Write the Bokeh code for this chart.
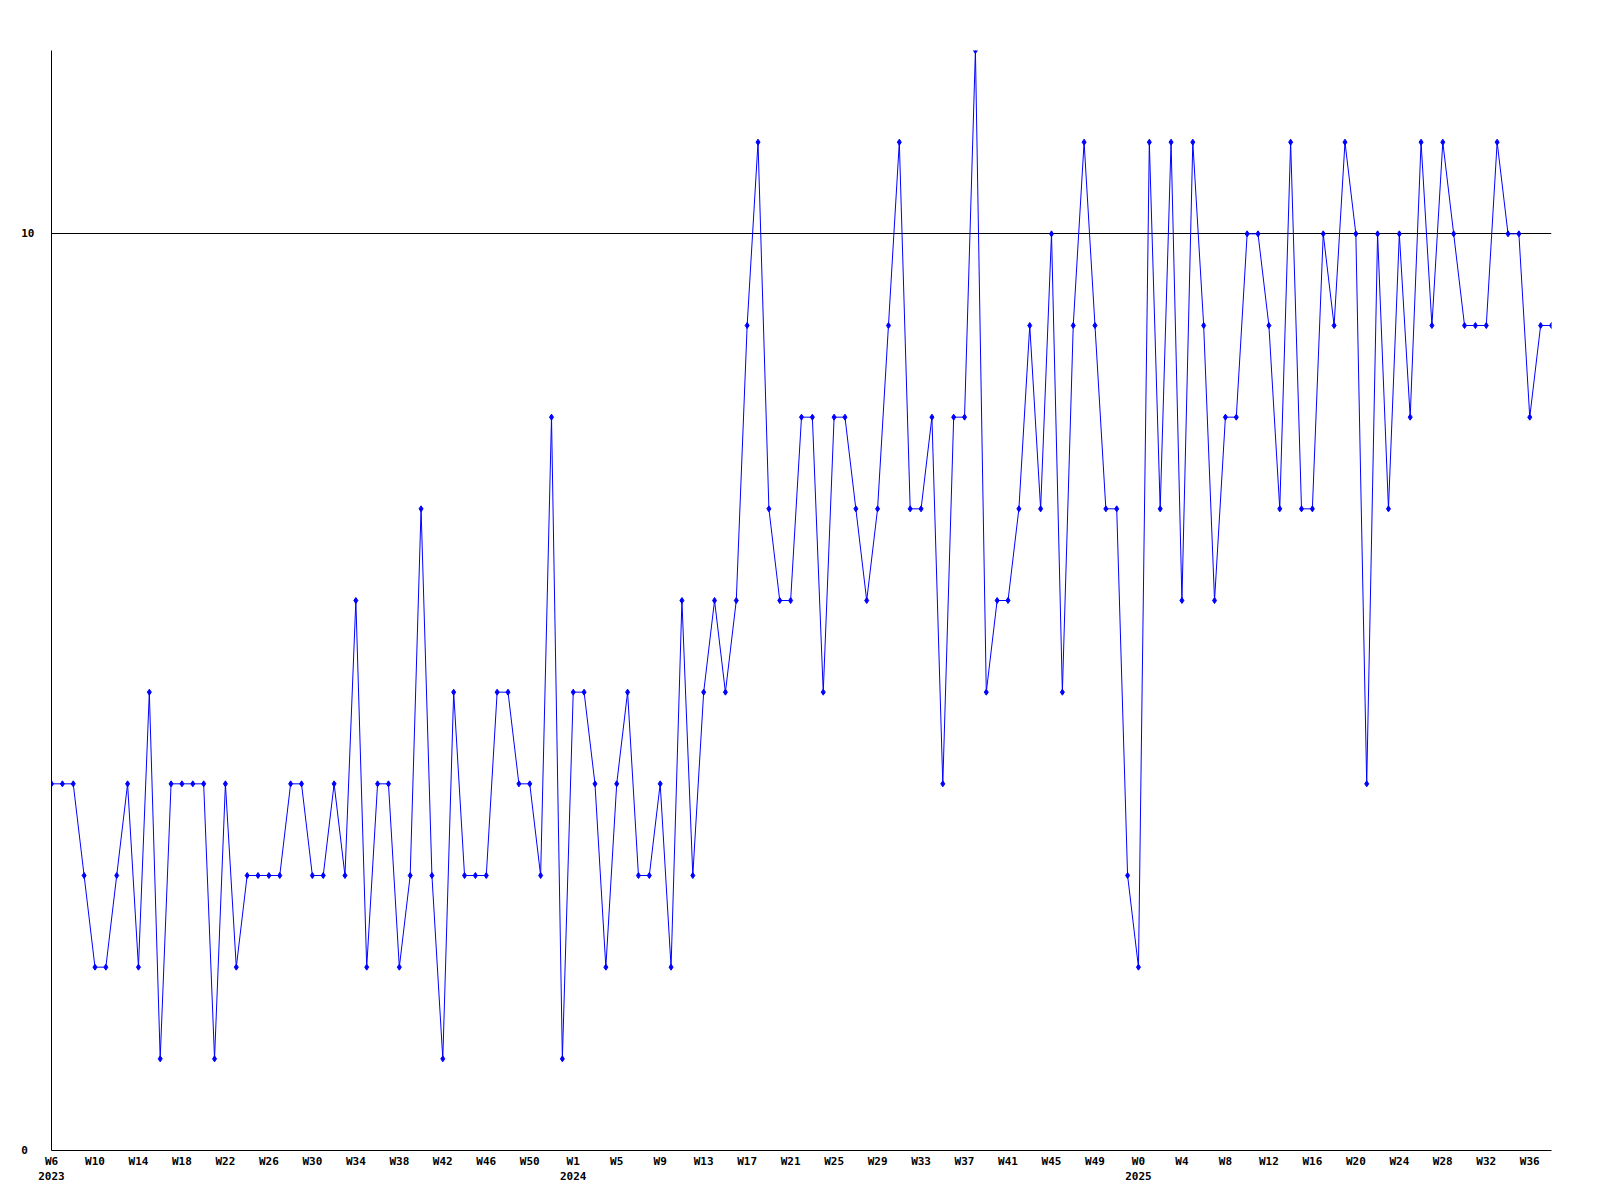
from bokeh.plotting import figure
from bokeh.models import Range1d, FixedTicker, LinearAxis
from bokeh.embed import file_html
from bokeh.resources import INLINE

# weekly values, W6 2023 .. W38 2025
values = [4, 4, 4, 3, 2, 2, 3, 4, 2, 5,
          1, 4, 4, 4, 4, 1, 4, 2, 3, 3,
          3, 3, 4, 4, 3, 3, 4, 3, 6, 2,
          4, 4, 2, 3, 7, 3, 1, 5, 3, 3,
          3, 5, 5, 4, 4, 3, 8, 1, 5, 5,
          4, 2, 4, 5, 3, 3, 4, 2, 6, 3,
          5, 6, 5, 6, 9, 11, 7, 6, 6, 8,
          8, 5, 8, 8, 7, 6, 7, 9, 11, 7,
          7, 8, 4, 8, 8, 12, 5, 6, 6, 7,
          9, 7, 10, 5, 9, 11, 9, 7, 7, 3,
          2, 11, 7, 11, 6, 11, 9, 6, 8, 8,
          10, 10, 9, 7, 11, 7, 7, 10, 9, 11,
          10, 4, 10, 7, 10, 8, 11, 9, 11, 10,
          9, 9, 9, 11, 10, 10, 8, 9, 9]

week_labels = ["W6", "W10", "W14", "W18", "W22", "W26", "W30", "W34", "W38",
               "W42", "W46", "W50", "W1", "W5", "W9", "W13", "W17", "W21",
               "W25", "W29", "W33", "W37", "W41", "W45", "W49", "W0", "W4",
               "W8", "W12", "W16", "W20", "W24", "W28", "W32", "W36"]
week_label_index = [4 * i for i in range(len(week_labels))]

year_labels = ["2023", "2024", "2025"]
year_label_index = [0, 48, 100]

y_ticks = [0, 10]
y_tick_labels = ["0\u00a0", "10"]

x = list(range(len(values)))

FONT = "DejaVu Sans Mono"
FS = "11px"

p = figure(width=1584, height=1184, output_backend="svg", toolbar_location=None,
           x_range=Range1d(0, len(values) - 1), y_range=Range1d(0, 12),
           min_border_left=51, min_border_right=33, min_border_top=50,
           min_border_bottom=34)
p.outline_line_color = None
p.background_fill_color = "white"
p.border_fill_color = "white"
p.xgrid.visible = False

p.line(x, values, line_color="#0000ff", line_width=1)
p.scatter(x, values, marker="diamond", size=6, color="#0000ff")

# x axis: week labels
xa = p.xaxis[0]
xa.ticker = FixedTicker(ticks=week_label_index)
xa.major_label_overrides = {i: lab for i, lab in zip(week_label_index, week_labels)}
xa.major_tick_out = 0
xa.major_tick_in = 0
xa.minor_tick_out = 0
xa.minor_tick_in = 0
xa.major_label_standoff = 4
xa.axis_line_color = "black"
xa.axis_line_width = 1
xa.major_label_text_font = FONT
xa.major_label_text_font_size = FS
xa.major_label_text_font_style = "bold"
xa.major_label_text_color = "black"

# second row: years
ya2 = LinearAxis(ticker=FixedTicker(ticks=year_label_index))
ya2.major_label_overrides = {i: lab for i, lab in zip(year_label_index, year_labels)}
ya2.axis_line_color = None
ya2.major_tick_out = 0
ya2.major_tick_in = 0
ya2.minor_tick_out = 0
ya2.minor_tick_in = 0
ya2.major_label_standoff = 1
ya2.major_label_text_font = FONT
ya2.major_label_text_font_size = FS
ya2.major_label_text_font_style = "bold"
ya2.major_label_text_color = "black"
p.add_layout(ya2, "below")

# y axis
ya = p.yaxis[0]
ya.ticker = FixedTicker(ticks=y_ticks)
ya.major_label_overrides = {t: lab for t, lab in zip(y_ticks, y_tick_labels)}
ya.major_tick_out = 0
ya.major_tick_in = 0
ya.minor_tick_out = 0
ya.minor_tick_in = 0
ya.major_label_standoff = 17
ya.axis_line_color = "black"
ya.axis_line_width = 1
ya.major_label_text_font = FONT
ya.major_label_text_font_size = FS
ya.major_label_text_font_style = "bold"
ya.major_label_text_color = "black"

p.ygrid.grid_line_color = "black"
p.ygrid.grid_line_alpha = 1.0
p.ygrid.grid_line_width = 1

open("out.html", "w").write(file_html(p, INLINE))
